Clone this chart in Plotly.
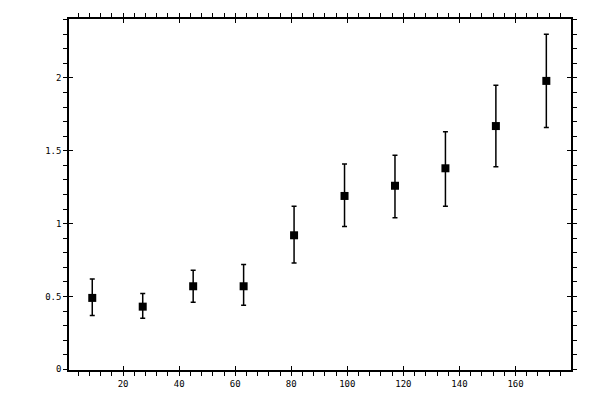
import plotly.graph_objects as go

# data
x_vals = [9, 27, 45, 63, 81, 99, 117, 135, 153, 171]
y_vals = [0.49, 0.43, 0.57, 0.57, 0.92, 1.19, 1.26, 1.38, 1.67, 1.98]
err_plus = [0.13, 0.09, 0.11, 0.15, 0.20, 0.22, 0.21, 0.25, 0.28, 0.32]
err_minus = [0.12, 0.08, 0.11, 0.13, 0.19, 0.21, 0.22, 0.26, 0.28, 0.32]

X_RANGE = [0.7, 179.8]
Y_RANGE = [-0.005, 2.405]

fig = go.Figure()

fig.add_trace(go.Scatter(
    x=x_vals, y=y_vals,
    mode="markers",
    marker=dict(symbol="square", size=8, color="black"),
    error_y=dict(type="data", symmetric=False, array=err_plus, arrayminus=err_minus,
                 color="black", thickness=1.5, width=2.5),
    showlegend=False, hoverinfo="skip",
))

# dummy trace so the overlay axes (inner half of the major ticks) get drawn
fig.add_trace(go.Scatter(x=[None], y=[None], xaxis="x2", yaxis="y2",
                         showlegend=False, hoverinfo="skip"))

axis_common = dict(showline=True, linecolor="black", linewidth=1.5, mirror="allticks",
                   ticks="outside", ticklen=4, tickwidth=1.2, tickcolor="black",
                   showgrid=False, zeroline=False, automargin=False,
                   tickfont=dict(family="DejaVu Sans Mono", size=9, color="black"))

fig.update_layout(
    width=600, height=400,
    margin=dict(l=61, r=37, t=11, b=38),
    paper_bgcolor="white", plot_bgcolor="white",
    xaxis=dict(range=X_RANGE, tick0=0, dtick=20,
               minor=dict(ticks="outside", ticklen=4, tickwidth=1.2, tickcolor="black", dtick=4),
               **axis_common),
    yaxis=dict(range=Y_RANGE, tick0=0, dtick=0.5,
               minor=dict(ticks="outside", ticklen=4, tickwidth=1.2, tickcolor="black", dtick=0.1),
               **axis_common),
    xaxis2=dict(range=X_RANGE, overlaying="x", anchor="y2", side="bottom", tick0=0, dtick=20,
                ticks="inside", ticklen=4, tickwidth=1.2, tickcolor="black", mirror="ticks",
                showline=False, showgrid=False, zeroline=False, showticklabels=False),
    yaxis2=dict(range=Y_RANGE, overlaying="y", anchor="x2", side="left", tick0=0, dtick=0.5,
                ticks="inside", ticklen=4, tickwidth=1.2, tickcolor="black", mirror="ticks",
                showline=False, showgrid=False, zeroline=False, showticklabels=False),
)

fig.write_html("out.html")
